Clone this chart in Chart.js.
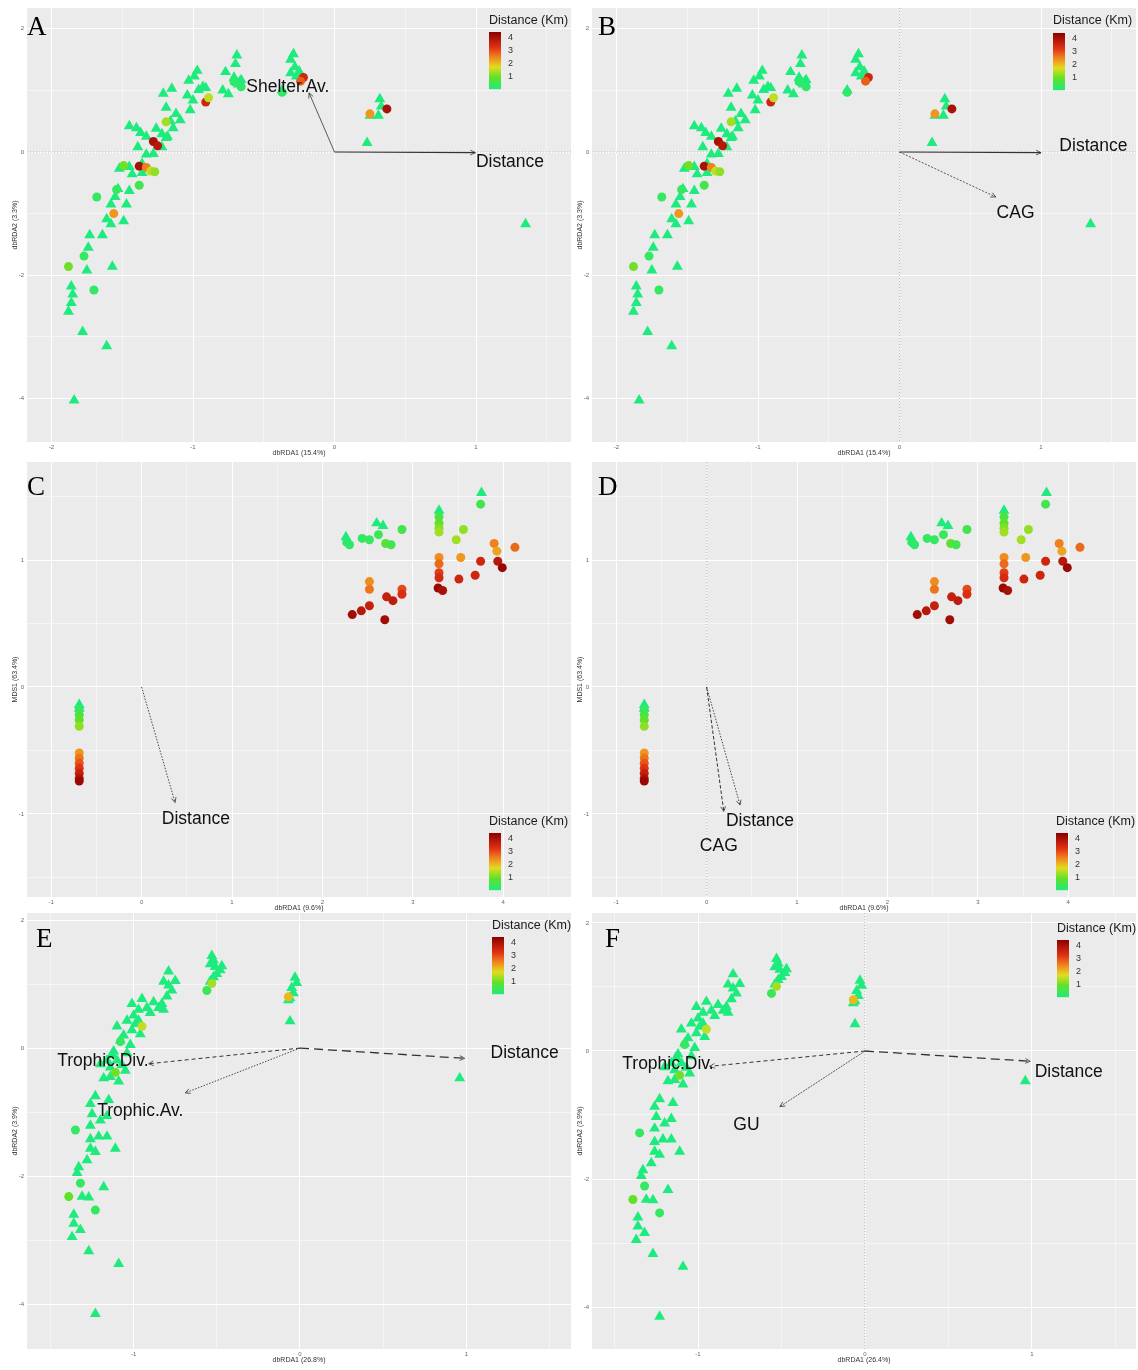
<!DOCTYPE html>
<html><head><meta charset="utf-8"><title>dbRDA panels</title>
<script src="https://cdn.jsdelivr.net/npm/chart.js@4.4.1/dist/chart.umd.min.js"></script>
<style>
html,body{margin:0;padding:0;background:#fff;}
#wrap{position:relative;width:1138px;height:1370px;overflow:hidden;background:#fff;}
#wrap canvas{position:absolute;}
</style></head><body><div id="wrap"></div>
<script>
// ---------- DATA ----------
// Panels A & B : dbRDA1 (15.4%) vs dbRDA2 (3.3%)
const abTriX = [-0.69,-0.70,-0.29,-0.31,-0.28,-0.25,-0.31,-0.27,-0.37,-0.97,-0.99,-1.03,-0.93,-0.96,-1.04,-1.00,-1.02,-0.91,-1.15,-1.21,-1.19,-1.12,-1.09,-1.16,-0.77,-0.79,-0.75,-1.45,-1.40,-1.37,-1.33,-1.26,-1.22,-1.18,-1.14,-1.39,-1.33,-1.28,-1.22,-1.19,-1.52,-1.45,-1.43,-1.36,-1.36,-1.53,-1.45,-1.55,-1.47,-1.58,-1.61,-1.49,-1.58,-1.73,-1.64,-1.74,-1.75,-1.57,-1.86,-1.85,-1.86,-1.88,-1.78,-1.61,-1.84,0.23,0.25,0.32,0.31,0.33,1.35,-0.71,-0.67,-0.68,-0.66,-0.70];
const abTriY = [1.57,1.43,1.59,1.50,1.38,1.31,1.28,1.23,1.00,1.32,1.23,1.16,1.06,1.01,0.92,0.84,0.68,1.04,1.03,0.95,0.72,0.62,0.52,0.50,1.30,1.00,0.94,0.42,0.39,0.31,0.25,0.38,0.29,0.25,0.39,0.08,-0.04,-0.03,0.08,0.23,-0.27,-0.24,-0.36,-0.34,-0.19,-0.60,-0.63,-0.73,-0.85,-0.85,-1.09,-1.12,-1.17,-1.35,-1.35,-1.55,-1.92,-1.86,-2.18,-2.31,-2.45,-2.59,-2.92,-3.15,-4.03,0.15,0.59,0.86,0.59,0.74,-1.17,1.21,1.14,1.10,1.17,1.15];
const abCirX = [-1.88,-1.77,-1.70,-1.68,-1.54,-1.38,-1.49,-1.38,-1.33,-1.30,-1.27,-1.28,-1.25,-1.19,-0.91,-0.89,-0.22,-0.24,0.25,0.37,-1.56,-0.71,-0.66,-0.37];
const abCirY = [-1.86,-1.69,-2.24,-0.73,-0.61,-0.54,-0.22,-0.23,-0.25,-0.31,-0.32,0.17,0.10,0.49,0.81,0.88,1.21,1.15,0.62,0.70,-1.00,1.14,1.06,0.97];
const abCirDist = [1.0,0.3,0.3,0.3,0.3,0.5,1.0,4.0,2.5,1.5,1.2,4.0,3.8,1.3,3.5,1.5,3.5,2.8,2.3,4.0,2.3,0.2,0.2,0.2];

// Panels C & D : dbRDA1 (9.6%) vs MDS1 (63.4%)
const cdTriX = [-0.69,-0.69,2.26,2.28,2.60,2.67,3.29,3.76];
const cdTriY = [-0.14,-0.17,1.18,1.15,1.29,1.27,1.39,1.53];
const cdCirX = [-0.69,-0.69,-0.69,-0.69,-0.69,-0.69,-0.69,-0.69,-0.69,-0.69,-0.69,2.30,2.27,2.44,2.52,2.62,2.70,2.76,2.88,3.29,3.29,3.29,3.29,3.75,3.48,3.56,3.90,3.93,4.13,3.53,3.29,3.29,3.29,3.29,3.51,3.69,3.75,3.94,3.99,3.28,3.33,2.52,2.52,2.88,2.88,2.71,2.78,2.52,2.43,2.33,2.69];
const cdCirY = [-0.18,-0.22,-0.26,-0.31,-0.52,-0.56,-0.60,-0.64,-0.68,-0.72,-0.74,1.12,1.14,1.17,1.16,1.20,1.13,1.12,1.24,1.34,1.29,1.25,1.22,1.44,1.16,1.24,1.13,1.07,1.10,1.02,1.02,0.97,0.90,0.86,0.85,0.88,0.99,0.99,0.94,0.78,0.76,0.83,0.77,0.77,0.73,0.71,0.68,0.64,0.60,0.57,0.53];
const cdCirDist = [0.3,0.6,0.9,1.2,2.3,2.6,2.9,3.2,3.6,3.9,4.2,0.2,0.2,0.3,0.3,0.4,0.8,0.5,0.5,0.6,0.9,1.1,1.3,0.5,1.3,1.2,2.5,2.2,2.7,2.3,2.4,2.7,3.1,3.4,3.5,3.5,3.5,3.8,4.2,4.2,4.0,2.4,2.6,3.0,3.3,3.6,3.7,3.6,3.8,4.1,4.1];

// Panels E & F : dbRDA1 (26.8% / 26.4%) vs dbRDA2 (3.9%)
const efTriX = [-0.53,-0.52,-0.54,-0.51,-0.48,-0.50,-0.52,-0.54,-0.03,-0.02,-0.05,-0.04,-0.06,-0.07,-0.06,-0.79,-0.82,-0.79,-0.77,-0.80,-0.83,-0.82,-0.85,-0.95,-1.01,-0.97,-0.92,-1.00,-0.97,-1.04,-1.10,-0.96,-1.01,-1.08,-1.02,-1.04,-1.10,-1.16,-1.14,-1.18,-1.14,-1.09,-1.05,-1.23,-1.26,-1.15,-1.25,-1.20,-1.16,-1.26,-1.21,-1.16,-1.26,-1.26,-1.23,-1.11,-1.28,-1.33,-1.34,-1.18,-1.31,-1.27,-1.36,-1.36,-1.32,-1.37,-1.27,-1.09,-1.23,0.96,-0.90,-0.88,-1.06,-0.99,-1.12,-1.07,-0.75,-0.47,-1.20,-1.13];
const efTriY = [1.44,1.37,1.31,1.27,1.22,1.16,1.11,1.04,1.10,1.02,0.94,0.86,0.78,0.75,0.42,1.20,1.04,0.98,0.90,0.81,0.69,0.60,0.63,0.77,0.69,0.60,0.63,0.51,0.43,0.43,0.34,0.22,0.28,0.12,0.05,-0.08,-0.19,-0.19,-0.30,-0.47,-0.45,-0.52,-0.35,-0.75,-0.87,-0.81,-1.03,-1.13,-1.06,-1.21,-1.38,-1.38,-1.42,-1.57,-1.62,-1.57,-1.75,-1.86,-1.95,-2.17,-2.32,-2.33,-2.60,-2.74,-2.84,-2.95,-3.17,-3.37,-4.15,-0.47,0.55,0.72,0.20,0.38,-0.05,-0.26,1.05,1.28,-0.25,-0.10];
const efCirX = [-0.56,-0.53,-1.35,-1.32,-1.39,-1.23,-1.08,-1.11,-0.95,-0.07];
const efCirY = [0.90,1.01,-1.28,-2.11,-2.32,-2.53,0.10,-0.38,0.34,0.80];
const efCirDist = [0.4,1.3,0.3,0.3,0.9,0.3,0.3,1.0,1.5,2.0];

// Fitted vectors (arrow tips) and label anchors, per panel
const vecA_names = ['Shelter.Av.','Distance'];
const vecA_x = [-0.18, 0.995], vecA_y = [0.96, -0.01];
const labA_x = [-0.33, 1.24], labA_y = [1.06, -0.16];
const vecB_names = ['Distance','CAG'];
const vecB_x = [1.0, 0.68], vecB_y = [-0.01, -0.73];
const labB_x = [1.37, 0.82], labB_y = [0.10, -0.99];
const vecC_names = ['Distance'];
const vecC_x = [0.37], vecC_y = [-0.91];
const labC_x = [0.60], labC_y = [-1.04];
const vecD_names = ['Distance','CAG'];
const vecD_x = [0.37, 0.19], vecD_y = [-0.93, -0.98];
const labD_x = [0.59, 0.135], labD_y = [-1.06, -1.255];
const vecE_names = ['Distance','Trophic.Div.','Trophic.Av.'];
const vecE_x = [0.99, -0.91, -0.69], vecE_y = [-0.16, -0.245, -0.70];
const labE_x = [1.35, -1.185, -0.96], labE_y = [-0.08, -0.21, -0.99];
const vecF_names = ['Distance','Trophic.Div.','GU'];
const vecF_x = [0.99, -0.93, -0.51], vecF_y = [-0.16, -0.24, -0.87];
const labF_x = [1.22, -1.18, -0.71], labF_y = [-0.33, -0.20, -1.16];

// Tick labels
const abXMajor = [-2,-1,0,1], abXMinor = [-1.5,-0.5,0.5,1.5];
const abYMajor = [2,0,-2,-4], abYMinor = [1,-1,-3];
const cdXMajor = [-1,0,1,2,3,4], cdXMinor = [-0.5,0.5,1.5,2.5,3.5,4.5];
const cdYMajor = [1,0,-1], cdYMinor = [1.5,0.5,-0.5,-1.5];
const efXMajor = [-1,0,1], efXMinor = [-1.5,-0.5,0.5,1.5];
const efYMajor = [2,0,-2,-4], efYMinor = [1,-1,-3];
const legendTicks = [1,2,3,4];
const legendMax = 4.4;

// ---------- STYLE ----------
const COLOR_STOPS = [0, 0.9, 1.7, 2.4, 3.2, 4.4];
const COLOR_RGB = [[30,235,125],[95,225,40],[225,220,30],[240,140,30],[225,50,20],[139,0,0]];
function rgb(c){return 'rgb('+c.map(v=>Math.round(v)).join(',')+')';}
function distColor(d){
  if (d <= COLOR_STOPS[0]) return rgb(COLOR_RGB[0]);
  for (let i=1;i<COLOR_STOPS.length;i++){
    if (d <= COLOR_STOPS[i]){
      const t=(d-COLOR_STOPS[i-1])/(COLOR_STOPS[i]-COLOR_STOPS[i-1]);
      const a=COLOR_RGB[i-1], b=COLOR_RGB[i];
      return rgb([0,1,2].map(k=>a[k]+(b[k]-a[k])*t));
    }
  }
  return rgb(COLOR_RGB[COLOR_RGB.length-1]);
}

const SOLID=[], DOT=[1.5,1.5], DASH=[4,3], LDASH=[9,5];
const panels = [
 {letter:'A', left:0, top:0, h:460, padTop:8, xr:[-2.173,1.671], yr:[-4.708,2.338],
  xMaj:abXMajor, xMin:abXMinor, yMaj:abYMajor, yMin:abYMinor,
  xTitle:'dbRDA1 (15.4%)', yTitle:'dbRDA2 (3.3%)',
  tri:[abTriX,abTriY], cir:[abCirX,abCirY,abCirDist],
  vec:[vecA_names,vecA_x,vecA_y,labA_x,labA_y], vstyle:[[SOLID,0.8],[SOLID,1.2]],
  zeroH:true, zeroV:false, lg:{x:489,ty:21,by:32}, lt:{x:27,y:35}},
 {letter:'B', left:565, top:0, h:460, padTop:8, xr:[-2.173,1.671], yr:[-4.708,2.338],
  xMaj:abXMajor, xMin:abXMinor, yMaj:abYMajor, yMin:abYMinor,
  xTitle:'dbRDA1 (15.4%)', yTitle:'dbRDA2 (3.3%)',
  tri:[abTriX,abTriY], cir:[abCirX,abCirY,abCirDist],
  vec:[vecB_names,vecB_x,vecB_y,labB_x,labB_y], vstyle:[[SOLID,1.1],[[2,1.5],0.8]],
  zeroH:true, zeroV:true, lg:{x:488,ty:21,by:33}, lt:{x:33,y:35}},
 {letter:'C', left:0, top:455, h:460, padTop:7, xr:[-1.268,4.75], yr:[-1.654,1.772],
  xMaj:cdXMajor, xMin:cdXMinor, yMaj:cdYMajor, yMin:cdYMinor,
  xTitle:'dbRDA1 (9.6%)', yTitle:'MDS1 (63.4%)',
  tri:[cdTriX,cdTriY], cir:[cdCirX,cdCirY,cdCirDist],
  vec:[vecC_names,vecC_x,vecC_y,labC_x,labC_y], vstyle:[[DOT,0.9]],
  zeroH:false, zeroV:false, lg:{x:489,ty:367,by:378}, lt:{x:27,y:40}},
 {letter:'D', left:565, top:455, h:460, padTop:7, xr:[-1.268,4.75], yr:[-1.654,1.772],
  xMaj:cdXMajor, xMin:cdXMinor, yMaj:cdYMajor, yMin:cdYMinor,
  xTitle:'dbRDA1 (9.6%)', yTitle:'MDS1 (63.4%)',
  tri:[cdTriX,cdTriY], cir:[cdCirX,cdCirY,cdCirDist],
  vec:[vecD_names,vecD_x,vecD_y,labD_x,labD_y], vstyle:[[DOT,0.9],[[3.5,2],1.0]],
  zeroH:false, zeroV:true, lg:{x:491,ty:367,by:378}, lt:{x:33,y:40}},
 {letter:'E', left:0, top:905, h:462, padTop:8, xr:[-1.641,1.629], yr:[-4.70,2.11],
  xMaj:efXMajor, xMin:efXMinor, yMaj:efYMajor, yMin:efYMinor,
  xTitle:'dbRDA1 (26.8%)', yTitle:'dbRDA2 (3.9%)',
  tri:[efTriX,efTriY], cir:[efCirX,efCirY,efCirDist],
  vec:[vecE_names,vecE_x,vecE_y,labE_x,labE_y], vstyle:[[LDASH,1.3],[DASH,1.0],[DOT,0.9]],
  zeroH:false, zeroV:false, lg:{x:492,ty:21,by:32}, lt:{x:36,y:42}},
 {letter:'F', left:565, top:905, h:462, padTop:8, xr:[-1.635,1.623], yr:[-4.656,2.156],
  xMaj:efXMajor, xMin:efXMinor, yMaj:efYMajor, yMin:efYMinor,
  xTitle:'dbRDA1 (26.4%)', yTitle:'dbRDA2 (3.9%)',
  tri:[efTriX,efTriY], cir:[efCirX,efCirY,efCirDist],
  vec:[vecF_names,vecF_x,vecF_y,labF_x,labF_y], vstyle:[[LDASH,1.3],[DASH,1.0],[[2,1],0.8]],
  zeroH:false, zeroV:true, lg:{x:492,ty:24,by:35}, lt:{x:40,y:42}}
];

const SANS = '"Liberation Sans", Arial, sans-serif';

function axis(min, max, majors, minors, title, isX){
  const all = majors.concat(minors).sort((a,b)=>a-b);
  return {
    type:'linear', min:min, max:max,
    afterBuildTicks: s => { s.ticks = all.map(v=>({value:v})); },
    afterFit: s => {
      if (isX) s.height = 18; else s.width = 27;
      s.paddingLeft = 0; s.paddingRight = 0; s.paddingTop = 0; s.paddingBottom = 0;
    },
    border:{display:false},
    grid:{color:'#ffffff', drawTicks:false,
      lineWidth: c => (c.tick && majors.includes(c.tick.value)) ? 1.0 : 0.5},
    ticks:{autoSkip:false, maxRotation:0, minRotation:0, padding: isX?2:3,
      font:{size:6, family:SANS}, color:'#666',
      callback: v => majors.includes(v) ? String(v) : ''},
    title:{display:true, text:title, color:'#333', font:{size:7, family:SANS},
      padding: isX ? {top:0,bottom:3} : {top:11,bottom:0}}
  };
}

function deco(p){
  return {
    id:'deco'+p.letter,
    beforeDraw(chart){
      const {ctx, chartArea:a} = chart;
      ctx.save(); ctx.fillStyle='#EBEBEB';
      ctx.fillRect(a.left, a.top, a.right-a.left, a.bottom-a.top); ctx.restore();
    },
    beforeDatasetsDraw(chart){
      const {ctx, chartArea:a, scales} = chart;
      ctx.save(); ctx.strokeStyle='#9a9a9a'; ctx.lineWidth=0.7; ctx.setLineDash([1.2,1.8]);
      if (p.zeroH){ const y=scales.y.getPixelForValue(0); ctx.beginPath(); ctx.moveTo(a.left,y); ctx.lineTo(a.right,y); ctx.stroke(); }
      if (p.zeroV){ const x=scales.x.getPixelForValue(0); ctx.beginPath(); ctx.moveTo(x,a.top); ctx.lineTo(x,a.bottom); ctx.stroke(); }
      ctx.restore();
    },
    afterDatasetsDraw(chart){
      const {ctx, scales} = chart;
      chart.data.datasets.forEach((d,i)=>{
        if (!d.isArrow) return;
        const m = chart.getDatasetMeta(i); const a=m.data[0], b=m.data[1];
        const ang = Math.atan2(b.y-a.y, b.x-a.x), L=5.5, w=0.45;
        ctx.save(); ctx.strokeStyle='#333'; ctx.lineWidth=0.8; ctx.setLineDash([]);
        ctx.beginPath();
        ctx.moveTo(b.x-L*Math.cos(ang-w), b.y-L*Math.sin(ang-w));
        ctx.lineTo(b.x,b.y);
        ctx.lineTo(b.x-L*Math.cos(ang+w), b.y-L*Math.sin(ang+w));
        ctx.stroke(); ctx.restore();
      });
      const [names,,,lx,ly] = p.vec;
      ctx.save(); ctx.fillStyle='#111'; ctx.font='17.5px '+SANS;
      ctx.textAlign='center'; ctx.textBaseline='middle';
      names.forEach((n,i)=>ctx.fillText(n, scales.x.getPixelForValue(lx[i]), scales.y.getPixelForValue(ly[i])));
      ctx.restore();
    },
    afterDraw(chart){
      const ctx = chart.ctx, lg = p.lg;
      ctx.save();
      ctx.fillStyle='#1a1a1a'; ctx.font='12.5px '+SANS; ctx.textAlign='left'; ctx.textBaseline='middle';
      ctx.fillText('Distance (Km)', lg.x, lg.ty);
      const bw=12, pu=13, bottom=lg.by+legendMax*pu;
      const g=ctx.createLinearGradient(0,bottom,0,lg.by);
      COLOR_STOPS.forEach((s,i)=>g.addColorStop(s/legendMax, rgb(COLOR_RGB[i])));
      ctx.fillStyle=g; ctx.fillRect(lg.x, lg.by, bw, legendMax*pu);
      ctx.fillStyle='#333'; ctx.font='9px '+SANS;
      legendTicks.forEach(v=>ctx.fillText(String(v), lg.x+bw+7, bottom - v*pu));
      ctx.fillStyle='#000'; ctx.font='27px "Liberation Serif", "Times New Roman", serif';
      ctx.textBaseline='alphabetic';
      ctx.fillText(p.letter, p.lt.x, p.lt.y);
      ctx.restore();
    }
  };
}

const wrap = document.getElementById('wrap');
panels.forEach(p=>{
  const c = document.createElement('canvas');
  c.width=572; c.height=p.h;
  c.style.left=p.left+'px'; c.style.top=p.top+'px';
  c.style.width='572px'; c.style.height=p.h+'px';
  wrap.appendChild(c);
  const [tx,ty]=p.tri, [cx,cy,cd]=p.cir;
  const [names,vx,vy]=p.vec;
  const datasets = [
    {label:'Triangles', data:tx.map((x,i)=>({x:x,y:ty[i]})), pointStyle:'triangle', pointRadius:6.3,
     backgroundColor:distColor(0), borderWidth:0, order:3},
    {label:'Circles', data:cx.map((x,i)=>({x:x,y:cy[i]})), pointStyle:'circle', pointRadius:4.5,
     backgroundColor:cd.map(distColor), borderWidth:0, order:2}
  ];
  names.forEach((n,i)=>{
    datasets.push({label:n, isArrow:true, data:[{x:0,y:0},{x:vx[i],y:vy[i]}], showLine:true,
      pointRadius:0, borderColor:'#333', borderWidth:p.vstyle[i][1], borderDash:p.vstyle[i][0],
      backgroundColor:'#333', order:1});
  });
  new Chart(c, {
    type:'scatter',
    data:{datasets:datasets},
    options:{
      responsive:false, animation:false, events:[],
      layout:{autoPadding:false, padding:{top:p.padTop, right:1, left:0, bottom:0}},
      plugins:{legend:{display:false}, tooltip:{enabled:false}},
      scales:{
        x: axis(p.xr[0], p.xr[1], p.xMaj, p.xMin, p.xTitle, true),
        y: axis(p.yr[0], p.yr[1], p.yMaj, p.yMin, p.yTitle, false)
      }
    },
    plugins:[deco(p)]
  });
});
</script></body></html>
